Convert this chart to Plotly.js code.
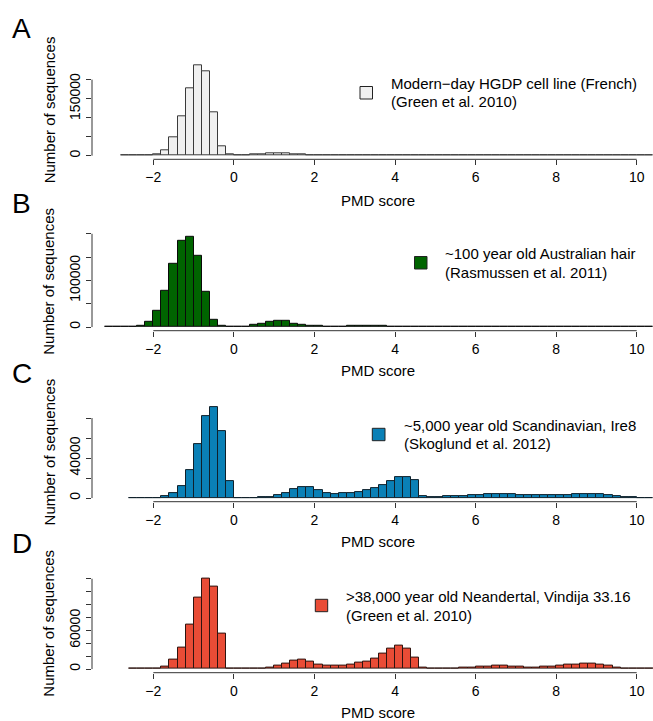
<!DOCTYPE html>
<html><head><meta charset="utf-8">
<script src="https://cdn.plot.ly/plotly-3.0.1.min.js"></script>
<style>html,body{margin:0;padding:0;background:#fff}</style>
</head><body><div id="chart" style="width:653px;height:721px"></div>
<script>
// ---------------- data ----------------
const binWidth = 0.2;
const xTicks = [-2, 0, 2, 4, 6, 8, 10];

const startA = -2.8;
const countsA = [200, 300, 500, 1000, 3500, 15000, 47400, 103500, 178000, 238000, 223000, 115000, 23500, 4400,
  1000, 1500, 3500, 4400, 5300, 5700, 5300, 4400, 3000, 1500, 1000,
  900, 800, 800, 700, 700, 600, 600, 600, 500, 500, 500, 500, 400, 400, 400, 400, 400, 300, 300,
  50, 50, 50, 50, 50, 50, 50, 50, 50, 50, 50, 50, 50, 50, 50, 50, 50, 50, 50, 50, 50, 50];

const startB = -3.2;
const countsB = [200, 300, 700, 1400, 3600, 12100, 35000, 78600, 136400, 185700, 194300, 152100, 75700, 15700, 2000, 1000,
  1000, 1400, 5000, 7900, 11400, 13500, 12500, 7900, 5000, 2900, 2100, 1400, 1400, 1400, 2100, 2900, 3200, 2900, 2500, 1400, 1000, 800,
  500, 500, 500, 500, 500, 450, 450, 450, 400, 400, 400, 400, 400, 350, 350, 350, 350, 300, 300, 300, 300, 300,
  50, 50, 50, 50, 50, 50, 50, 50];

const startC = -2.6;
const countsC = [300, 300, 400, 400, 1500, 4500, 11800, 27800, 53800, 82000, 91300, 67200, 17200,
  300, 300, 400, 700, 1300, 3000, 5300, 8700, 11000, 11000, 8000, 4700, 4300, 4700, 5300, 6000, 7700, 10300, 13300, 17300, 21000, 21300, 17700,
  1700, 1300, 1300, 1700, 2000, 2300, 2700, 3000, 3700, 4300, 4300, 3700, 3000, 2700, 2700, 2700, 3000, 3000, 3300, 3700, 4000, 4000, 3700, 2700,
  1700, 1000, 700, 300, 300];

const startD = -2.6;
const countsD = [300, 300, 500, 800, 4100, 14000, 34000, 68200, 111000, 140800, 127300, 55300, 1500,
  1000, 500, 500, 1000, 2600, 5200, 8800, 12400, 15000, 11900, 7200, 5200, 5200, 5700, 7200, 9300, 11900, 16500, 24300, 32000, 36700, 32000, 18100,
  2600, 500, 500, 1000, 1000, 1600, 2100, 3100, 4100, 4700, 4700, 4100, 3100, 2600, 2600, 3100, 4100, 4700, 6200, 7200, 8300, 8300, 7200, 4700,
  2100, 1000, 500, 500, 500, 500];

const yTicksA = [0, 50000, 100000, 150000, 200000];
const yLabelsA = ['0', '', '', '150000', ''];
const yTicksB = [0, 50000, 100000, 150000, 200000];
const yLabelsB = ['0', '', '100000', '', ''];
const yTicksC = [0, 20000, 40000, 60000, 80000];
const yLabelsC = ['0', '', '40000', '', ''];
const yTicksD = [0, 20000, 40000, 60000, 80000, 100000, 120000, 140000];
const yLabelsD = ['0', '', '', '60000', '', '', '', ''];

const panelLetters = ['A', 'B', 'C', 'D'];
const legendLine1 = ['Modern\u2212day HGDP cell line (French)', '~100 year old Australian hair',
  '~5,000 year old Scandinavian, Ire8', '>38,000 year old Neandertal, Vindija 33.16'];
const legendLine2 = ['(Green et al. 2010)', '(Rasmussen et al. 2011)', '(Skoglund et al. 2012)', '(Green et al. 2010)'];
const xTitle = 'PMD score';
const yTitle = 'Number of sequences';

// ---------------- styling / layout ----------------
const FONT = '"Liberation Sans", Arial, Helvetica, sans-serif';
const W = 653, H = 721, ML = 92;
const PW = W - ML;
const px2x = p => (p - ML) / PW;
const px2y = p => 1 - p / H;

const panels = [
  {s: '', start: startA, counts: countsA, ticks: yTicksA, labels: yLabelsA, fill: '#f0f0f0', edge: '#3a3a3a',
   top: 61.3, bottom: 159.3, range: [-9550, 248250],
   letterY: 11, legSq: [360, 86.5, 372.5, 99], legTextX: 389, legY: [84, 102]},
  {s: '2', start: startB, counts: countsB, ticks: yTicksB, labels: yLabelsB, fill: '#006400', edge: '#0a0a0a',
   top: 232.8, bottom: 330.7, range: [-7772, 202072],
   letterY: 186, legSq: [414.5, 256.5, 427, 269], legTextX: 443, legY: [253, 272]},
  {s: '3', start: startC, counts: countsC, ticks: yTicksC, labels: yLabelsC, fill: '#0a80b6', edge: '#10202a',
   top: 403.1, bottom: 501.7, range: [-3652, 94952],
   letterY: 356, legSq: [372.3, 428.3, 385, 440.7], legTextX: 401.7, legY: [426, 444]},
  {s: '4', start: startD, counts: countsD, ticks: yTicksD, labels: yLabelsD, fill: '#e94c36', edge: '#2e1410',
   top: 574.6, bottom: 672.7, range: [-5632, 146432],
   letterY: 526, legSq: [315.3, 599.3, 327.7, 611.7], legTextX: 344, legY: [596.7, 615]}
];

const X_RANGE = [-3.523, 10.405];
const xTitleY = [200, 370.5, 541, 712];

const data = [];
const layout = {
  width: W, height: H,
  margin: {l: ML, r: 0, t: 0, b: 0, pad: 0},
  paper_bgcolor: '#ffffff', plot_bgcolor: 'rgba(0,0,0,0)',
  bargap: 0, showlegend: false,
  font: {family: FONT, color: '#000000', size: 14},
  shapes: [], annotations: []
};

panels.forEach((p, i) => {
  const xs = p.counts.map((_, k) => +(p.start + k * binWidth).toFixed(1));
  data.push({
    type: 'bar', x: xs, y: p.counts, width: binWidth, offset: 0,
    xaxis: 'x' + p.s, yaxis: 'y' + p.s,
    marker: {color: p.fill, line: {color: p.edge, width: 1}},
    hoverinfo: 'skip'
  });
  layout['xaxis' + p.s] = {
    anchor: 'y' + p.s, domain: [0, 1], range: X_RANGE,
    tickmode: 'array', tickvals: xTicks, ticks: 'outside', ticklen: 5, tickwidth: 1, tickcolor: '#333',
    showline: false, showgrid: false, zeroline: false, tickfont: {size: 14, family: FONT, color: '#000'},
    fixedrange: true
  };
  layout['yaxis' + p.s] = {
    anchor: 'x' + p.s, domain: [px2y(p.bottom), px2y(p.top)], range: p.range,
    tickmode: 'array', tickvals: p.ticks, ticktext: p.labels, tickangle: -90,
    ticks: 'outside', ticklen: 5, tickwidth: 1, tickcolor: '#333',
    showline: false, showgrid: false, zeroline: false, tickfont: {size: 14, family: FONT, color: '#000'},
    fixedrange: true
  };
  // R-style axis lines (only spanning the tick range)
  layout.shapes.push({type: 'line', xref: 'x' + p.s, yref: 'y' + p.s + ' domain',
    x0: xTicks[0], x1: xTicks[xTicks.length - 1], y0: 0, y1: 0, line: {color: '#333', width: 1}});
  layout.shapes.push({type: 'line', xref: 'x' + p.s + ' domain', yref: 'y' + p.s,
    x0: 0, x1: 0, y0: p.ticks[0], y1: p.ticks[p.ticks.length - 1], line: {color: '#333', width: 1}});
  // legend square
  layout.shapes.push({type: 'rect', xref: 'paper', yref: 'paper',
    x0: px2x(p.legSq[0]), x1: px2x(p.legSq[2]), y0: px2y(p.legSq[3]), y1: px2y(p.legSq[1]),
    fillcolor: p.fill, line: {color: '#222', width: 1}});
  // legend text
  [legendLine1[i], legendLine2[i]].forEach((t, j) => {
    layout.annotations.push({text: t, xref: 'paper', yref: 'paper', x: px2x(p.legTextX), y: px2y(p.legY[j]),
      xanchor: 'left', yanchor: 'middle', showarrow: false, font: {size: 15, family: FONT, color: '#000'}});
  });
  // panel letter
  layout.annotations.push({text: panelLetters[i], xref: 'paper', yref: 'paper', x: px2x(10), y: px2y(p.letterY),
    xanchor: 'left', yanchor: 'top', showarrow: false, font: {size: 28, family: FONT, color: '#000'}});
  // axis titles
  layout.annotations.push({text: xTitle, xref: 'paper', yref: 'paper', x: px2x(378), y: px2y(xTitleY[i]),
    xanchor: 'center', yanchor: 'middle', showarrow: false, font: {size: 15, family: FONT, color: '#000'}});
  layout.annotations.push({text: yTitle, xref: 'paper', yref: 'paper', x: px2x(49), y: px2y((p.top + p.bottom) / 2),
    xanchor: 'center', yanchor: 'middle', textangle: -90, showarrow: false, font: {size: 15, family: FONT, color: '#000'}});
});

Plotly.newPlot('chart', data, layout, {displayModeBar: false, staticPlot: false});
</script></body></html>
